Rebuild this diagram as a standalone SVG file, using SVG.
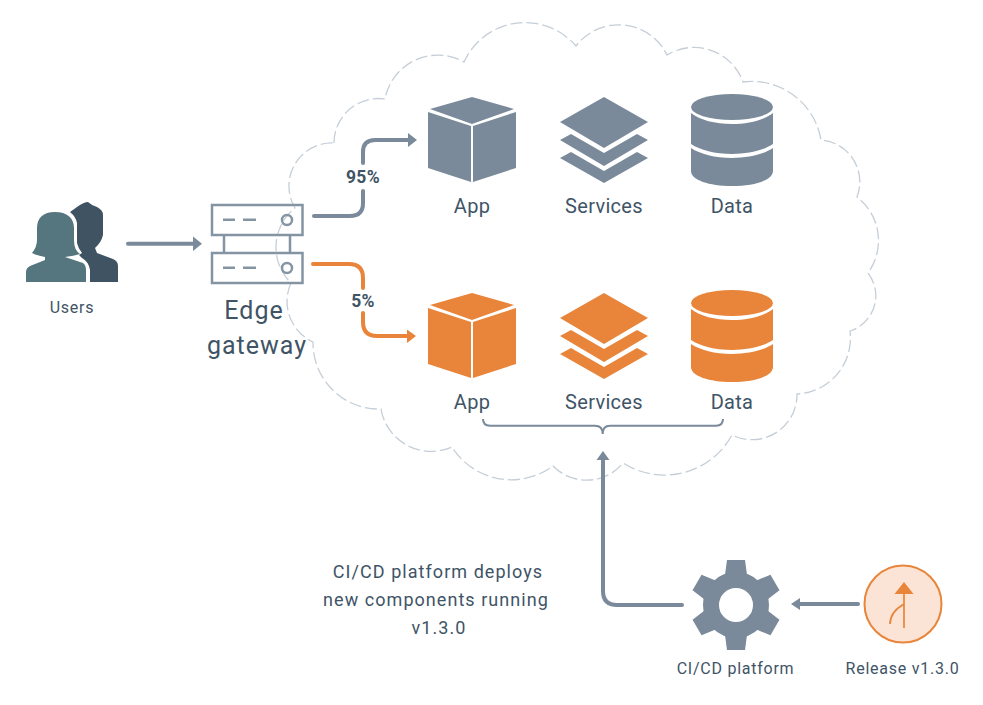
<svg xmlns="http://www.w3.org/2000/svg" width="983" height="705" viewBox="0 0 983 705">
<style>
text{font-family:Roboto,"Liberation Sans",sans-serif;fill:#405466;text-anchor:middle}
.n{font-size:20px;letter-spacing:.3px}
.s{font-size:16px;letter-spacing:.75px}
.e{font-size:25px;letter-spacing:1px}
.c{font-size:18px;letter-spacing:1.05px}
.p{font-size:17.5px;font-weight:700;letter-spacing:.3px}
.g{fill:#7a8a9a}.o{fill:#e8853a}
.l{fill:none;stroke-width:4;stroke-linecap:round;stroke-linejoin:round}
.lg{stroke:#7a8a9a}.lo{stroke:#e8853a}
.sv{fill:none;stroke:#8494a3;stroke-width:2.5}
</style>
<defs>
<g id="cube"><path d="M472 97L514 109L472 124L430 109Z"/><path d="M428 112L471 126V182L428 168Z"/><path d="M516 112L473 126V182L516 168Z"/></g>
<g id="stack"><path d="M604 97L648 122L604 148L560 122Z"/><path d="M571 134L560 140L604 166L648 140L637 134L604 153Z"/><path d="M571 152L560 158L604 183L648 158L637 152L604 171Z"/></g>
<g id="db"><ellipse cx="732" cy="107" rx="41" ry="13"/><path d="M691 113C700 120 715 124 732 124C749 124 764 120 773 113V144C764 150 749 154 732 154C715 154 700 150 691 144Z"/><path d="M691 148C700 154 715 158 732 158C749 158 764 154 773 148V171C773 180 755 186 732 186C709 186 691 180 691 171Z"/></g>
<path id="tooth" d="M-9-45H9L11-30H-11Z"/>
</defs>
<g id="cloud"><path d="M334 143A44.500 44.500 0 0 1 385 99A53.600 53.600 0 0 1 464 62A67 67 0 0 1 576 46A53.700 53.700 0 0 1 667 55A52 52 0 0 1 743 82A70 70 0 0 1 821 140A42 42 0 0 1 857 197A55 55 0 0 1 868 273A37 37 0 0 1 850 331A56 56 0 0 1 797 394A45 45 0 0 1 732 435A77 77 0 0 1 623 463A47 47 0 0 1 553 466A70 70 0 0 1 452 447A51 51 0 0 1 381 409A66 66 0 0 1 313 342A44.700 44.700 0 0 1 291 283A50 50 0 0 1 295 208A43 43 0 0 1 334 143Z" fill="none" stroke="#c5ced8" stroke-width="1.300" stroke-dasharray="12 4"/></g>
<g id="connectors">
<path class="l lg" d="M128 243.700H194"/><path class="g" d="M193 236.500L202 243.700L193 251Z"/>
<path class="l lg" d="M314 216H350Q363 216 363 203V191"/><path class="l lg" d="M363 163V152Q363 140 375 140H409"/><path class="g" d="M408 133L417 140L408 147Z"/>
<path class="l lo" d="M313 264H349Q363 264 363 278V288"/><path class="l lo" d="M363 313V322Q363 336 377 336H408"/><path class="o" d="M407 329.500L416 336L407 343Z"/>
<path class="l lg" d="M682 605H617Q603 605 603 591V459"/><path class="g" d="M596.500 460L603 451L609.500 460Z"/>
<path class="l lg" d="M858 604H799"/><path class="g" d="M800 598L791 604L800 610Z"/>
<path d="M483 419Q483 425.700 490 425.700H595Q602.700 425.700 602.700 434Q602.700 425.700 610 425.700H716Q723 425.700 723 419" fill="none" stroke="#7a8a9a" stroke-width="2"/>
<text class="p" x="363" y="183">95%</text>
<text class="p" x="363" y="307">5%</text>
</g>
<g id="users">
<path fill="#3f5363" d="M70 212L77 207Q84 202 88 202Q91 205 97 207Q103 210 103 215V235Q101 243 95 248L97 253L113 259Q118 261 118 266V282H90V270Q89 262 82 258L79 255L82 253Q78 248 77 243V223Q76 217 70 212Z"/>
<path fill="#56767f" d="M55 212C67 212 74 218 74 228V240Q74 250 80 254Q74 256 65 257L83 263Q86 265 86 270V282H26V272Q26 268 30 266L45 260L45 257Q38 256 32 253Q37 247 37 240V228C37 218 43 212 55 212Z"/>
<text class="s" x="72" y="313">Users</text>
</g>
<g id="gateway">
<rect class="sv" x="212" y="205" width="90.500" height="30"/><rect class="sv" x="212" y="253" width="90.500" height="30"/>
<path class="sv" d="M224 235V252M290 235V252M223 219.700H235M243 219.700H256M223 267.700H235M243 267.700H256"/>
<circle class="sv" cx="287" cy="220" r="5"/><circle class="sv" cx="287" cy="268" r="5"/>
<text class="e" x="254" y="319">Edge</text>
<text class="e" x="257" y="354">gateway</text>
</g>
<g id="app-v1"><use href="#cube" class="g"/><text class="n" x="472" y="213">App</text></g>
<g id="services-v1"><use href="#stack" class="g"/><text class="n" x="604" y="213">Services</text></g>
<g id="data-v1"><use href="#db" class="g"/><text class="n" x="732" y="213">Data</text></g>
<g id="app-v2"><use href="#cube" y="196" class="o"/><text class="n" x="472" y="409">App</text></g>
<g id="services-v2"><use href="#stack" y="196" class="o"/><text class="n" x="604" y="409">Services</text></g>
<g id="data-v2"><use href="#db" y="196" class="o"/><text class="n" x="732" y="409">Data</text></g>
<g id="note"><text class="c" x="438" y="577.500">CI/CD platform deploys</text><text class="c" x="436" y="606">new components running</text><text class="c" x="439" y="633.500">v1.3.0</text></g>
<g id="cicd">
<g class="g" transform="translate(736 605)"><use href="#tooth"/><use href="#tooth" transform="rotate(60)"/><use href="#tooth" transform="rotate(120)"/><use href="#tooth" transform="rotate(180)"/><use href="#tooth" transform="rotate(240)"/><use href="#tooth" transform="rotate(300)"/><circle r="25" fill="none" stroke="#7a8a9a" stroke-width="16"/></g>
<text class="s" x="735.500" y="674">CI/CD platform</text>
</g>
<g id="release">
<circle cx="903" cy="604" r="38.500" fill="#fbe4d5" stroke="#e8853a" stroke-width="2"/>
<path class="o" d="M904 582L913.500 594H894.500Z"/>
<path d="M904 594V628M904 604Q890 612 890 624" fill="none" stroke="#e8853a" stroke-width="1.700"/>
<text class="s" x="902.500" y="674">Release v1.3.0</text>
</g>
</svg>
